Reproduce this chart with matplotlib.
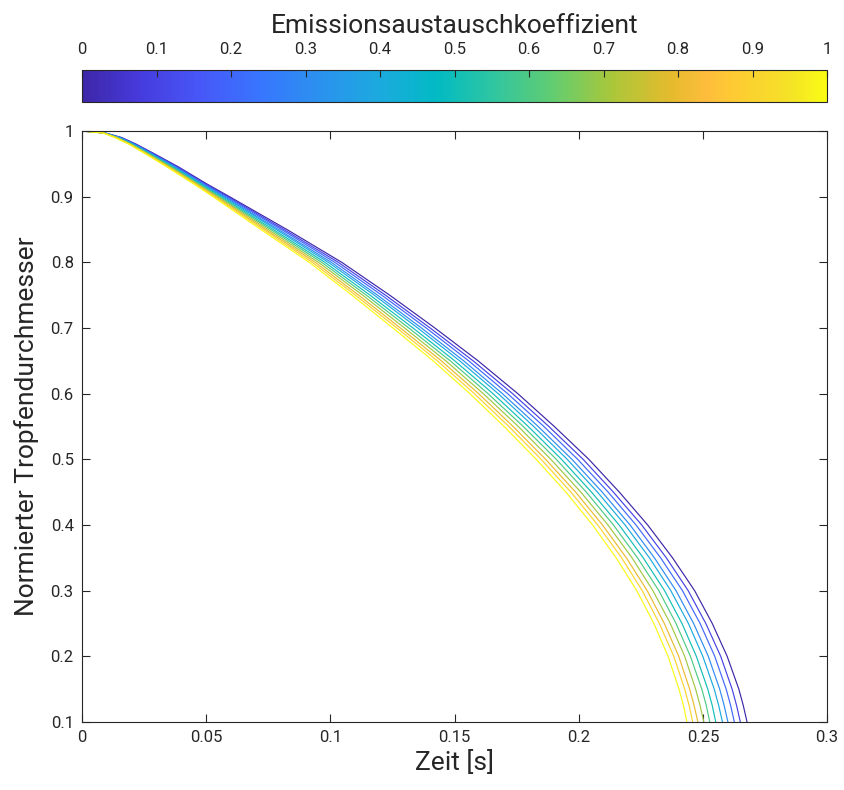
import numpy as np
import matplotlib.pyplot as plt
from matplotlib.colors import LinearSegmentedColormap, Normalize
from matplotlib.cm import ScalarMappable

plt.rcParams['font.family'] = ['Roboto', 'DejaVu Sans']

# emission exchange coefficient of each curve
coeffs = [0.0, 0.1, 0.2, 0.3, 0.4, 0.5, 0.6, 0.7, 0.8, 0.9, 1.0]

# normalized droplet diameter levels, and the time (s) each curve reaches them
diam = [1.0, 0.997, 0.99, 0.98, 0.965, 0.945, 0.92, 0.9, 0.85, 0.8, 0.75, 0.7, 0.65,
        0.6, 0.55, 0.5, 0.45, 0.4, 0.35, 0.3, 0.25, 0.2, 0.15, 0.125, 0.1]
t_00 = [0, 0.0094, 0.0160, 0.0218, 0.0293, 0.0390, 0.0500, 0.0594, 0.0825, 0.1046, 0.1239, 0.1421, 0.1595,
        0.1755, 0.1902, 0.2041, 0.2164, 0.2278, 0.2378, 0.2467, 0.2538, 0.2598, 0.2645, 0.2663, 0.2678]
t_01 = [0, 0.0093, 0.0157, 0.0215, 0.0289, 0.0385, 0.0494, 0.0587, 0.0813, 0.1032, 0.1222, 0.1402, 0.1575,
        0.1734, 0.1880, 0.2018, 0.2140, 0.2254, 0.2353, 0.2441, 0.2512, 0.2572, 0.2618, 0.2636, 0.2651]
t_02 = [0, 0.0092, 0.0154, 0.0212, 0.0285, 0.0380, 0.0489, 0.0580, 0.0803, 0.1018, 0.1207, 0.1386, 0.1557,
        0.1714, 0.1860, 0.1996, 0.2119, 0.2231, 0.2330, 0.2418, 0.2489, 0.2548, 0.2594, 0.2612, 0.2627]
t_03 = [0, 0.0091, 0.0151, 0.0208, 0.0281, 0.0375, 0.0483, 0.0573, 0.0791, 0.1004, 0.1190, 0.1367, 0.1537,
        0.1693, 0.1837, 0.1973, 0.2095, 0.2207, 0.2305, 0.2392, 0.2463, 0.2522, 0.2568, 0.2586, 0.2601]
t_04 = [0, 0.0090, 0.0149, 0.0206, 0.0278, 0.0371, 0.0478, 0.0567, 0.0782, 0.0992, 0.1177, 0.1352, 0.1521,
        0.1676, 0.1819, 0.1954, 0.2076, 0.2187, 0.2285, 0.2371, 0.2442, 0.2500, 0.2546, 0.2564, 0.2579]
t_05 = [0, 0.0089, 0.0145, 0.0202, 0.0274, 0.0366, 0.0472, 0.0559, 0.0770, 0.0978, 0.1160, 0.1333, 0.1501,
        0.1655, 0.1797, 0.1931, 0.2052, 0.2163, 0.2260, 0.2346, 0.2416, 0.2474, 0.2520, 0.2538, 0.2552]
t_06 = [0, 0.0088, 0.0143, 0.0199, 0.0270, 0.0361, 0.0467, 0.0552, 0.0760, 0.0965, 0.1145, 0.1316, 0.1483,
        0.1635, 0.1777, 0.1910, 0.2031, 0.2140, 0.2237, 0.2323, 0.2392, 0.2450, 0.2496, 0.2514, 0.2528]
t_07 = [0, 0.0088, 0.0140, 0.0196, 0.0266, 0.0356, 0.0462, 0.0546, 0.0749, 0.0952, 0.1130, 0.1299, 0.1465,
        0.1616, 0.1757, 0.1888, 0.2009, 0.2118, 0.2215, 0.2299, 0.2369, 0.2427, 0.2471, 0.2489, 0.2504]
t_08 = [0, 0.0087, 0.0137, 0.0193, 0.0263, 0.0351, 0.0457, 0.0539, 0.0739, 0.0939, 0.1114, 0.1282, 0.1447,
        0.1597, 0.1736, 0.1867, 0.1988, 0.2096, 0.2192, 0.2276, 0.2345, 0.2403, 0.2447, 0.2465, 0.2480]
t_09 = [0, 0.0086, 0.0135, 0.0191, 0.0260, 0.0347, 0.0452, 0.0533, 0.0730, 0.0927, 0.1101, 0.1268, 0.1431,
        0.1580, 0.1719, 0.1849, 0.1969, 0.2077, 0.2173, 0.2256, 0.2325, 0.2383, 0.2427, 0.2445, 0.2459]
t_10 = [0, 0.0085, 0.0132, 0.0188, 0.0256, 0.0343, 0.0447, 0.0527, 0.0720, 0.0915, 0.1087, 0.1252, 0.1414,
        0.1562, 0.1700, 0.1829, 0.1949, 0.2056, 0.2151, 0.2234, 0.2303, 0.2360, 0.2404, 0.2422, 0.2436]
times = [t_00, t_01, t_02, t_03, t_04, t_05, t_06, t_07, t_08, t_09, t_10]

x_ticks = [0, 0.05, 0.1, 0.15, 0.2, 0.25, 0.3]
x_labels = ['0', '0.05', '0.1', '0.15', '0.2', '0.25', '0.3']
y_ticks = [0.1, 0.2, 0.3, 0.4, 0.5, 0.6, 0.7, 0.8, 0.9, 1.0]
y_labels = ['0.1', '0.2', '0.3', '0.4', '0.5', '0.6', '0.7', '0.8', '0.9', '1']
cb_ticks = [0, 0.1, 0.2, 0.3, 0.4, 0.5, 0.6, 0.7, 0.8, 0.9, 1.0]
cb_labels = ['0', '0.1', '0.2', '0.3', '0.4', '0.5', '0.6', '0.7', '0.8', '0.9', '1']

# parula-like colormap
_pts = [(0, (0.2422, 0.1504, 0.6603)), (5, (0.2751, 0.2342, 0.8710)),
        (10, (0.2795, 0.3447, 0.9717)), (15, (0.2206, 0.4603, 0.9973)),
        (20, (0.1687, 0.5703, 0.9359)), (25, (0.1113, 0.6635, 0.8763)),
        (30, (0.0067, 0.7312, 0.7660)), (35, (0.1938, 0.7758, 0.6251)),
        (40, (0.3909, 0.8029, 0.4354)), (45, (0.6720, 0.7793, 0.2227)),
        (50, (0.9035, 0.7330, 0.1774)), (53, (0.9956, 0.7434, 0.2371)),
        (55, (0.9952, 0.7893, 0.2028)), (60, (0.9610, 0.8890, 0.1537)),
        (63, (0.9769, 0.9839, 0.0805))]
parula = LinearSegmentedColormap.from_list('parula', [(i / 63, c) for i, c in _pts])

txt = (0.15, 0.15, 0.15)
W, H = 844, 790
fig = plt.figure(figsize=(W / 100, H / 100), dpi=100)
ax = fig.add_axes([82 / W, (H - 722) / H, 745 / W, 591 / H])

norm = Normalize(0, 1)
for c, t in zip(coeffs, times):
    ax.plot(t, diam, color=parula(norm(c)), lw=0.85)

ax.set_xlim(0, 0.3)
ax.set_ylim(0.1, 1)
ax.set_xticks(x_ticks)
ax.set_xticklabels(x_labels)
ax.set_yticks(y_ticks)
ax.set_yticklabels(y_labels)
ax.tick_params(direction='in', top=True, right=True, length=6, width=0.8,
               colors=txt, labelsize=12, pad=6)
for s in ax.spines.values():
    s.set_color(txt)
    s.set_linewidth(0.8)
ax.set_xlabel('Zeit [s]', fontsize=19, color=txt, labelpad=3)
ax.set_ylabel('Normierter Tropfendurchmesser', fontsize=19, color=txt, labelpad=8)

cax = fig.add_axes([82 / W, (H - 102) / H, 745 / W, 32 / H])
sm = ScalarMappable(norm=norm, cmap=parula)
cb = fig.colorbar(sm, cax=cax, orientation='horizontal')
cb.set_ticks(cb_ticks)
cb.set_ticklabels(cb_labels)
cax.xaxis.set_ticks_position('top')
cax.xaxis.set_label_position('top')
cax.tick_params(direction='in', length=5, width=0.8, colors=txt, labelsize=12, pad=9)
cb.outline.set_edgecolor(txt)
cb.outline.set_linewidth(0.8)
cb.set_label('Emissionsaustauschkoeffizient', fontsize=19, color=txt, labelpad=7)

fig.savefig('out.png', dpi=100)
